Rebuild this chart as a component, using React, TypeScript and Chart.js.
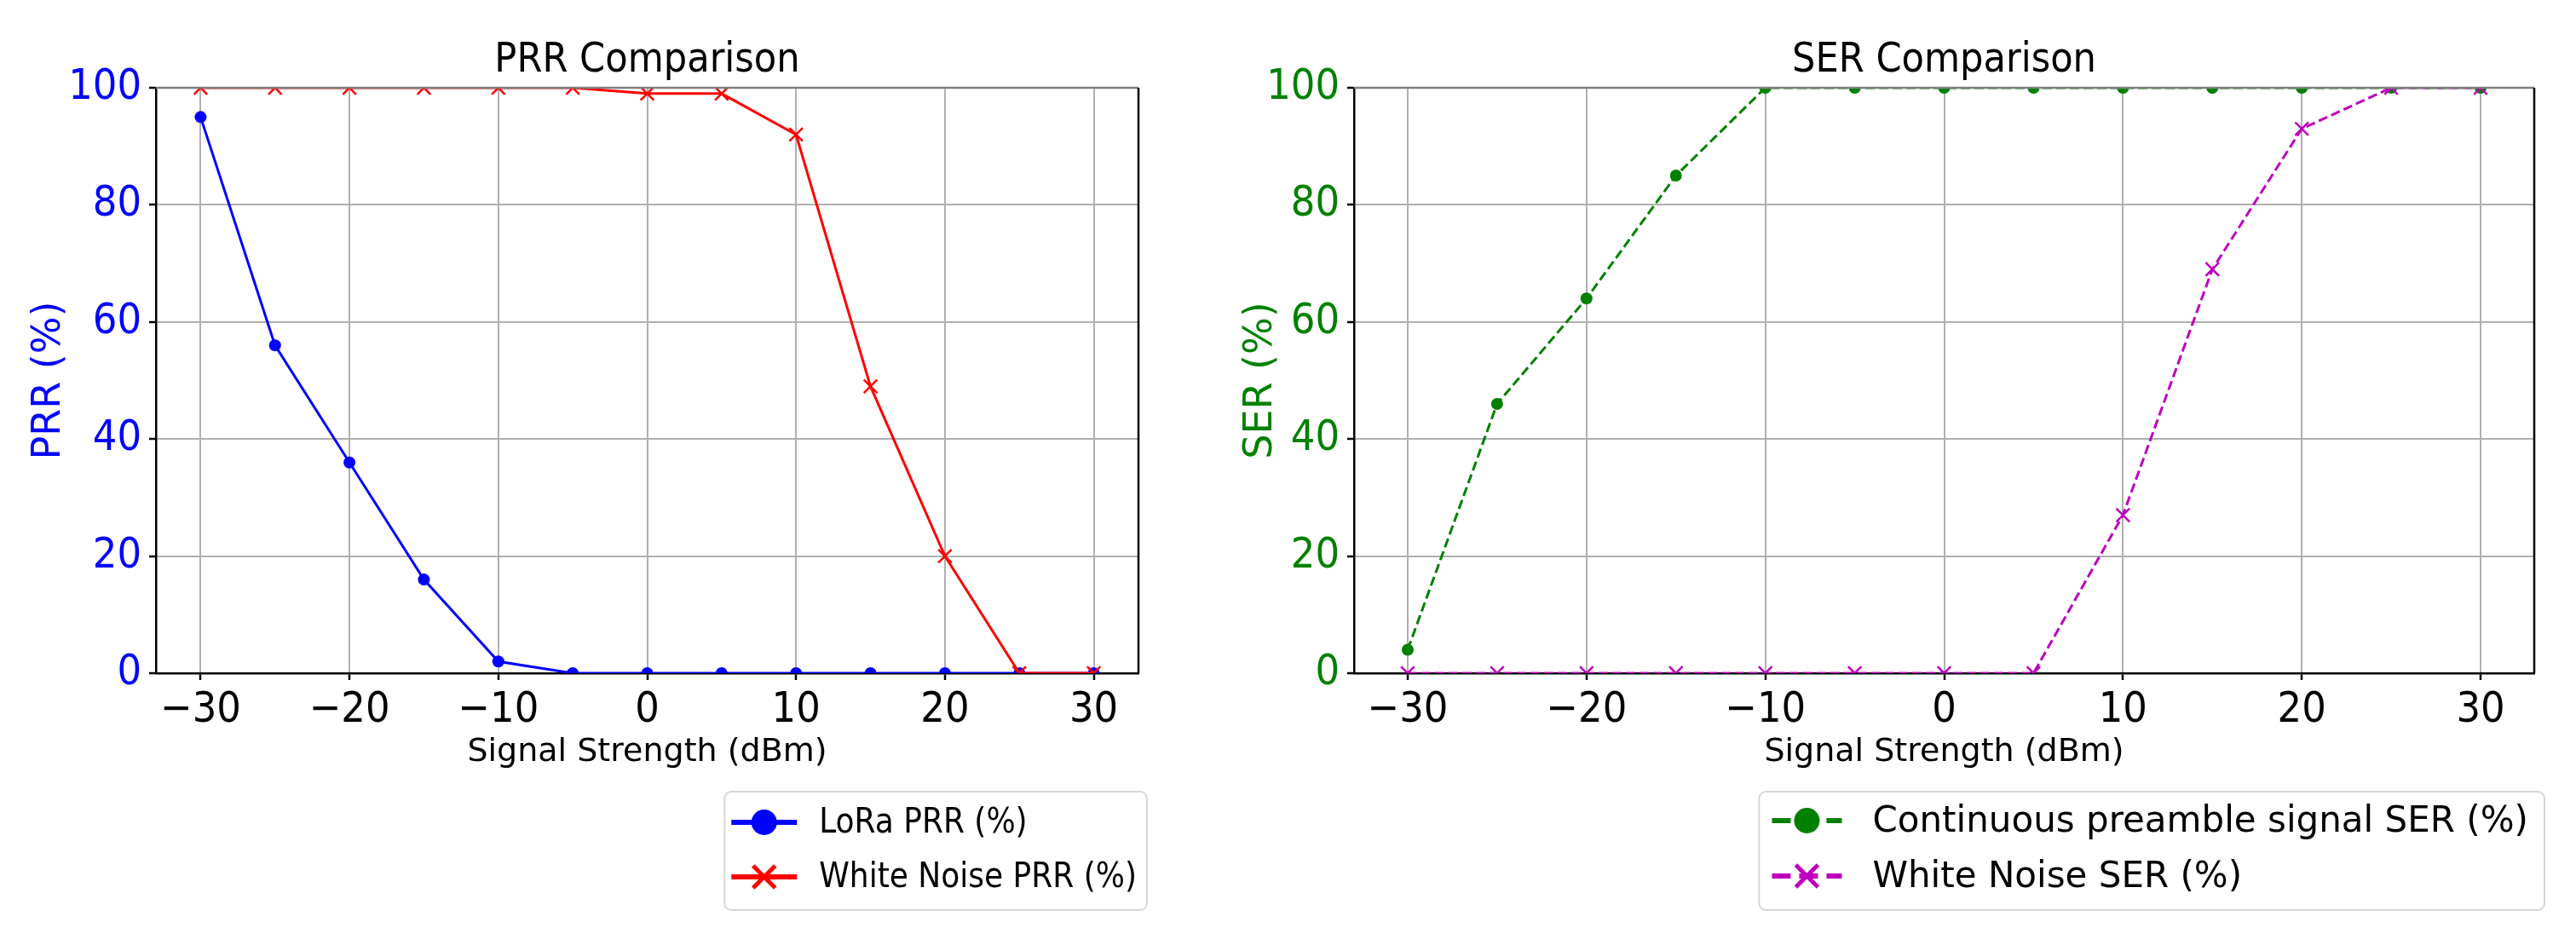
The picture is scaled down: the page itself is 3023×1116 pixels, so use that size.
import { useEffect, useRef } from 'react';
import { Chart, registerables } from 'chart.js';

Chart.register(...registerables);

// signal strength sweep (dBm) shared by both panels
const signalStrength = [-30, -25, -20, -15, -10, -5, 0, 5, 10, 15, 20, 25, 30];
const loraPRR = [95, 56, 36, 16, 2, 0, 0, 0, 0, 0, 0, 0, 0];
const whiteNoisePRR = [100, 100, 100, 100, 100, 100, 99, 99, 92, 49, 20, 0, 0];
const preambleSER = [4, 46, 64, 85, 100, 100, 100, 100, 100, 100, 100, 100, 100];
const whiteNoiseSER = [0, 0, 0, 0, 0, 0, 0, 0, 27, 69, 93, 100, 100];
const xTicks = [-30, -20, -10, 0, 10, 20, 30];
const yTicks = [0, 20, 40, 60, 80, 100];

const FONT = "'DejaVu Sans', sans-serif";
const FONT_C = "'DejaVu Sans Condensed', 'DejaVu Sans', sans-serif";

const pts = (ys: number[]) => signalStrength.map((x, i) => ({ x, y: ys[i] }));
const fmtTick = (v: number) => (v < 0 ? '\u2212' + Math.abs(v) : String(v));

// top (grey) and right (black) spines, drawn over the data like matplotlib
const frame = {
  id: 'frame',
  afterDatasetsDraw(chart: any) {
    const { ctx, chartArea: a } = chart;
    ctx.save();
    ctx.lineWidth = 2.5;
    ctx.strokeStyle = '#808080';
    ctx.beginPath();
    ctx.moveTo(a.left, a.top);
    ctx.lineTo(a.right, a.top);
    ctx.stroke();
    ctx.strokeStyle = '#000';
    ctx.beginPath();
    ctx.moveTo(a.right, a.top);
    ctx.lineTo(a.right, a.bottom);
    ctx.stroke();
    ctx.restore();
  },
};

// framed legend under the x axis title, right aligned to the plot
const boxLegend = {
  id: 'boxLegend',
  afterDraw(chart: any, _args: any, o: any) {
    const { ctx, chartArea } = chart;
    const items = chart.data.datasets;
    ctx.save();
    ctx.font = `${o.size}px ${o.family}`;
    const textW = Math.max(...items.map((d: any) => ctx.measureText(d.label).width));
    const w = o.padLeft + o.sampleLen + o.gap + textW + o.padRight;
    const right = chartArea.right + o.offsetRight;
    const left = right - w;
    ctx.beginPath();
    ctx.roundRect(left, o.top, w, o.height, 8);
    ctx.fillStyle = '#fff';
    ctx.fill();
    ctx.lineWidth = 2;
    ctx.strokeStyle = '#d6d6d6';
    ctx.stroke();

    items.forEach((d: any, i: number) => {
      const cy = o.top + o.rowStart + i * o.rowGap;
      const x0 = left + o.padLeft;
      const x1 = x0 + o.sampleLen;
      const cx = (x0 + x1) / 2;
      ctx.strokeStyle = d.borderColor;
      ctx.lineWidth = 6;
      ctx.setLineDash(d.borderDash ? [22, 10] : []);
      ctx.beginPath();
      ctx.moveTo(x0, cy);
      ctx.lineTo(x1, cy);
      ctx.stroke();
      ctx.setLineDash([]);
      if (d.pointStyle === 'circle') {
        ctx.fillStyle = d.borderColor;
        ctx.beginPath();
        ctx.arc(cx, cy, 15, 0, Math.PI * 2);
        ctx.fill();
      } else {
        const r = 13;
        ctx.lineWidth = 5;
        ctx.beginPath();
        ctx.moveTo(cx - r, cy - r);
        ctx.lineTo(cx + r, cy + r);
        ctx.moveTo(cx + r, cy - r);
        ctx.lineTo(cx - r, cy + r);
        ctx.stroke();
      }
      ctx.fillStyle = '#000';
      ctx.textBaseline = 'middle';
      ctx.textAlign = 'left';
      ctx.fillText(d.label, x1 + o.gap, cy + 2);
    });
    ctx.restore();
  },
};

interface PanelProps {
  left: number;
  width: number;
  title: string;
  yTitle: string;
  axisColor: string;
  yAxisWidth: number;
  yTitlePad: number;
  padRight: number;
  datasets: any[];
  legend: any;
}

function Panel({ left, width, title, yTitle, axisColor, yAxisWidth, yTitlePad, padRight, datasets, legend }: PanelProps) {
  const ref = useRef<HTMLCanvasElement>(null);
  const chartRef = useRef<Chart | null>(null);

  useEffect(() => {
    if (!ref.current) return;
    const grid = { color: '#b0b0b0', lineWidth: 2, tickColor: '#000', tickLength: 8, tickWidth: 2.5 };

    chartRef.current?.destroy();
    chartRef.current = new Chart(ref.current, {
      type: 'line',
      data: { datasets },
      plugins: [frame, boxLegend],
      options: {
        animation: false,
        responsive: false,
        layout: { padding: { left: 0, right: padRight, top: 0, bottom: 196 } },
        plugins: {
          legend: { display: false },
          tooltip: { enabled: false },
          title: {
            display: true, text: title, color: '#000', fullSize: false,
            font: { family: FONT_C, size: 48, weight: 'normal' },
            padding: { top: 43, bottom: 2.4 },
          },
          boxLegend: legend,
        } as any,
        scales: {
          x: {
            type: 'linear', min: -33, max: 33,
            afterBuildTicks: (s: any) => { s.ticks = xTicks.map((value) => ({ value })); },
            afterFit: (s: any) => { s.height = 130; },
            ticks: {
              color: '#000', font: { family: FONT_C, size: 50 }, padding: 6,
              maxRotation: 0, autoSkip: false, callback: (v: any) => fmtTick(Number(v)),
            },
            grid,
            border: { color: '#000', width: 2.5 },
            title: {
              display: true, text: 'Signal Strength (dBm)', color: '#000',
              font: { family: FONT, size: 38 }, padding: { top: 0, bottom: 14 },
            },
          },
          y: {
            min: 0, max: 100,
            afterBuildTicks: (s: any) => { s.ticks = yTicks.map((value) => ({ value })); },
            afterFit: (s: any) => { s.width = yAxisWidth; },
            ticks: { color: axisColor, font: { family: FONT_C, size: 50 }, padding: 9 },
            grid,
            border: { color: '#000', width: 2.5 },
            title: {
              display: true, text: yTitle, color: axisColor,
              font: { family: FONT, size: 46 }, padding: { top: yTitlePad, bottom: 0 },
            },
          },
        },
      } as any,
    });
    return () => { chartRef.current?.destroy(); };
  }, []);

  return (
    <canvas
      ref={ref}
      width={width}
      height={1116}
      style={{ position: 'absolute', left, top: 0, width, height: 1116 }}
    />
  );
}

const prrSets = [
  {
    label: 'LoRa PRR (%)', data: pts(loraPRR), borderColor: '#0000ff', backgroundColor: '#0000ff',
    borderWidth: 3, pointStyle: 'circle', pointRadius: 7, pointBorderWidth: 0,
    pointBackgroundColor: '#0000ff', order: 2, clip: 0,
  },
  {
    label: 'White Noise PRR (%)', data: pts(whiteNoisePRR), borderColor: '#ff0000', backgroundColor: '#ff0000',
    borderWidth: 3, pointStyle: 'crossRot', pointRadius: 11, pointBorderWidth: 2.5,
    pointBorderColor: '#ff0000', order: 1, clip: 0,
  },
];

const serSets = [
  {
    label: 'Continuous preamble signal SER (%)', data: pts(preambleSER), borderColor: '#008000',
    backgroundColor: '#008000', borderWidth: 3, borderDash: [11, 5], pointStyle: 'circle',
    pointRadius: 7, pointBorderWidth: 0, pointBackgroundColor: '#008000', order: 2, clip: 0,
  },
  {
    label: 'White Noise SER (%)', data: pts(whiteNoiseSER), borderColor: '#bf00bf',
    backgroundColor: '#bf00bf', borderWidth: 3, borderDash: [11, 5], pointStyle: 'crossRot',
    pointRadius: 11, pointBorderWidth: 2.5, pointBorderColor: '#bf00bf', order: 1, clip: 0,
  },
];

export default function App() {
  return (
    <div style={{ position: 'fixed', left: 0, top: 0, width: 3023, height: 1116, overflow: 'hidden', background: '#fff' }}>
      <Panel
        left={0} width={1492} title="PRR Comparison" yTitle="PRR (%)" axisColor="#0000ff"
        yAxisWidth={183} yTitlePad={30} padRight={156} datasets={prrSets}
        legend={{ top: 929, height: 139, offsetRight: 10, padLeft: 8, sampleLen: 77, gap: 26, padRight: 12, rowStart: 36, rowGap: 64, family: FONT_C, size: 40 }}
      />
      <Panel
        left={1420} width={1774} title="SER Comparison" yTitle="SER (%)" axisColor="#008000"
        yAxisWidth={169} yTitlePad={32} padRight={220} datasets={serSets}
        legend={{ top: 929, height: 139, offsetRight: 12, padLeft: 15, sampleLen: 82, gap: 36, padRight: 19, rowStart: 34, rowGap: 65, family: FONT, size: 42 }}
      />
    </div>
  );
}
